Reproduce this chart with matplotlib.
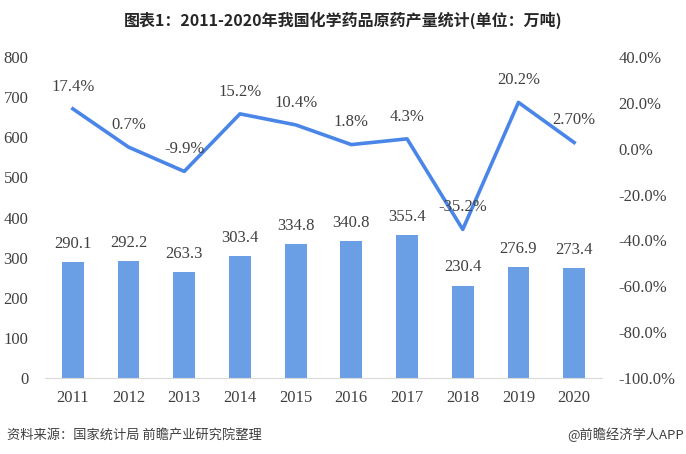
import matplotlib.pyplot as plt
from matplotlib.ticker import FuncFormatter

years = ["2011", "2012", "2013", "2014", "2015", "2016", "2017", "2018", "2019", "2020"]
output = [290.1, 292.2, 263.3, 303.4, 334.8, 340.8, 355.4, 230.4, 276.9, 273.4]
growth = [17.4, 0.7, -9.9, 15.2, 10.4, 1.8, 4.3, -35.2, 20.2, 2.7]
growth_labels = ["17.4%", "0.7%", "-9.9%", "15.2%", "10.4%", "1.8%", "4.3%", "-35.2%", "20.2%", "2.70%"]

NUM_FONT = ["Liberation Serif", "DejaVu Serif"]
CJK_FONT = ["Noto Sans CJK SC", "DejaVu Sans"]

fig = plt.figure(figsize=(6.86, 4.54), dpi=100)
ax = fig.add_axes([45 / 686, 1 - 378 / 454, 557 / 686, 321 / 454])
x = list(range(len(years)))

ax.bar(x, output, width=0.39, color="#6a9fe6", zorder=2)
ax.set_xlim(-0.5, 9.5)
ax.set_ylim(0, 800)
ax.set_yticks(range(0, 801, 100))
ax.set_xticks(x)
ax.set_xticklabels(years)
for s in ["top", "left", "right"]:
    ax.spines[s].set_visible(False)
ax.spines["bottom"].set_color("#d9d9d9")
ax.tick_params(length=0, labelsize=12, colors="#404040")
ax.tick_params(axis="y", pad=12)
ax.tick_params(axis="x", pad=9)
for lab in ax.get_xticklabels() + ax.get_yticklabels():
    lab.set_family(NUM_FONT)

for xi, v in zip(x, output):
    ax.annotate(f"{v:.1f}", (xi, v), xytext=(0, 13), textcoords="offset points",
                ha="center", va="center", fontsize=12, family=NUM_FONT, color="#404040")

ax2 = ax.twinx()
ax2.plot(x, growth, color="#4a86e8", linewidth=2.6, zorder=3)
ax2.set_ylim(-100, 40)
ax2.set_yticks(range(-100, 41, 20))
ax2.yaxis.set_major_formatter(FuncFormatter(lambda v, p: f"{v:.1f}%"))
for s in ["top", "left", "right", "bottom"]:
    ax2.spines[s].set_visible(False)
ax2.tick_params(length=0, labelsize=12, colors="#404040", pad=12)
for lab in ax2.get_yticklabels():
    lab.set_family(NUM_FONT)

for xi, v, t in zip(x, growth, growth_labels):
    ax2.annotate(t, (xi, v), xytext=(0, 16), textcoords="offset points",
                 ha="center", va="center", fontsize=12, family=NUM_FONT, color="#404040")

fig.text(0.5, 1 - 20 / 454, "图表1：2011-2020年我国化学药品原药产量统计(单位：万吨)",
         ha="center", va="center", fontsize=11.5, fontweight="bold", family=CJK_FONT, color="#262626")
fig.text(7 / 686, 1 - 435 / 454, "资料来源：国家统计局 前瞻产业研究院整理",
         ha="left", va="center", fontsize=9.5, family=CJK_FONT, color="#404040")
fig.text(684 / 686, 1 - 435 / 454, "@前瞻经济学人APP",
         ha="right", va="center", fontsize=9.5, family=CJK_FONT, color="#404040")

fig.savefig("out.png", dpi=100)
